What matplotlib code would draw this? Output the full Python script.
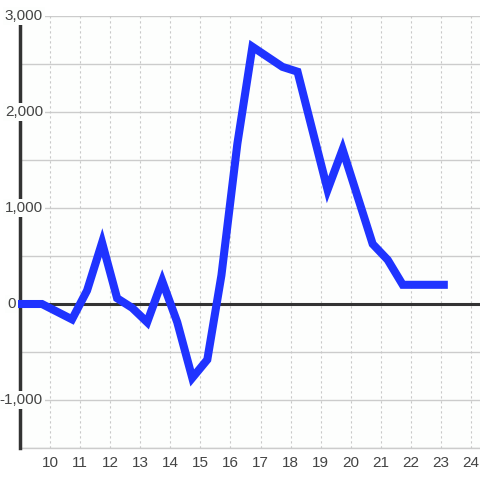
import matplotlib
matplotlib.use("Agg")
import matplotlib.pyplot as plt

# series
hours = [8.85, 9.73, 10.73, 11.23, 11.73, 12.23, 12.73, 13.23, 13.73, 14.23,
         14.73, 15.23, 15.7, 16.23, 16.73, 17.73, 18.23, 19.23, 19.73, 20.73,
         21.23, 21.73, 23.23]
values = [0, 0, -160, 140, 640, 60, -40, -190, 240, -190,
          -770, -580, 300, 1670, 2680, 2470, 2420, 1190, 1610, 625,
          460, 200, 200]

x_ticks = list(range(10, 25))
y_ticks = [-1000, 0, 1000, 2000, 3000]
y_labels = ["-1,000", "0", "1,000", "2,000", "3,000"]
y_grid = [-1500, -1000, -500, 0, 500, 1000, 1500, 2000, 2500, 3000]

plt.rcParams['font.family'] = ['Liberation Sans', 'DejaVu Sans']

fig = plt.figure(figsize=(4.8, 4.8), dpi=100)
fig.patch.set_facecolor('white')
ax = fig.add_axes([20/480, 32/480, 460/480, 432/480])
ax.set_facecolor('#fdfefd')

ax.set_xlim(9.0, 24.3)
ax.set_ylim(-1500, 3000)

# grid
for g in y_grid:
    ax.axhline(g, color='#cccccc', lw=1, zorder=1)
for t in x_ticks:
    ax.axvline(t, color='#c8c8c8', lw=0.8, ls=(0, (2, 2.5)), zorder=1)
ax.axhline(0, color='#333333', lw=2.2, zorder=2)

for s in ['top', 'right']:
    ax.spines[s].set_visible(False)
ax.spines['bottom'].set_color('#cccccc')
ax.spines['bottom'].set_linewidth(1)
ax.spines['left'].set_color('#333333')
ax.spines['left'].set_linewidth(2.5)
ax.spines['left'].set_zorder(3)

ax.plot(hours, values, color='#1f33ff', lw=5.8, solid_joinstyle='miter',
        solid_capstyle='butt', zorder=5, clip_on=False)

ax.set_xticks(x_ticks)
ax.set_xticklabels([str(t) for t in x_ticks])
ax.tick_params(axis='x', length=0, pad=6, labelsize=11, labelcolor='#444444')
ax.set_yticks([])

for v, lab in zip(y_ticks, y_labels):
    # the zero label sits tight against the axis, the others end at +23px
    dx = -4 if v == 0 else 23
    ax.annotate(lab, xy=(0, v), xycoords=('axes fraction', 'data'),
                xytext=(dx, 0), textcoords='offset pixels',
                ha='right', va='center', fontsize=11, color='#444444',
                bbox=dict(boxstyle='square,pad=0.15', fc='#fdfefd', ec='none'),
                zorder=6, annotation_clip=False)

fig.savefig('out.png', dpi=100)
